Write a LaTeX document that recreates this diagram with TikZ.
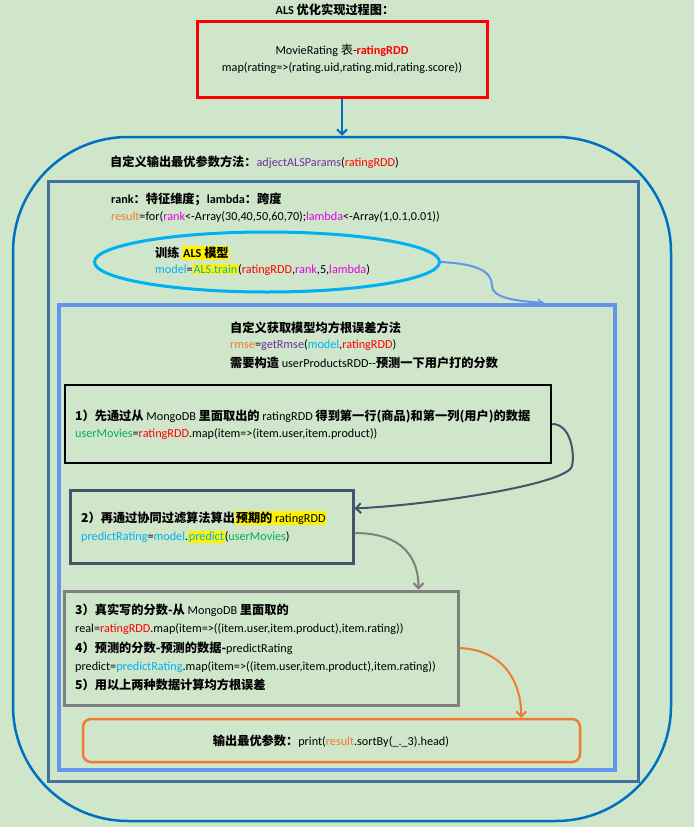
\documentclass[tikz,border=0pt]{standalone}
\usepackage{fontspec}
\setmainfont{Carlito}
\newfontfamily\zhfont{Noto Sans CJK SC}
\usetikzlibrary{arrows.meta,shapes.geometric}

\definecolor{paper}{RGB}{207,230,203}
\definecolor{wordblue}{RGB}{0,112,192}
\definecolor{steel}{RGB}{65,113,156}
\definecolor{cornflower}{RGB}{100,149,237}
\definecolor{skyc}{RGB}{0,176,240}
\definecolor{slate}{RGB}{68,84,106}
\definecolor{codeorange}{RGB}{237,125,49}
\definecolor{codepurple}{RGB}{112,48,160}
\definecolor{codegreen}{RGB}{0,176,80}
\definecolor{codemag}{RGB}{230,0,230}

% bold Chinese run, and yellow marker
\newcommand\zh[1]{{\zhfont\bfseries\fontsize{12.2pt}{14pt}\selectfont #1}}
\newcommand\hly[1]{{\setlength{\fboxsep}{0.8pt}\colorbox{yellow}{#1}}}

\begin{document}
\begin{tikzpicture}[x=1pt,y=-1pt,font=\fontsize{12.2pt}{14pt}\selectfont,
  txt/.style={anchor=west,inner sep=0pt},
  ctxt/.style={inner sep=0pt},
  box/.style={draw,inner sep=0pt},
  barb/.style={-{Straight Barb[length=5pt,width=10pt]}}]
  \useasboundingbox (0,0) rectangle (694,827);
  \fill[paper] (0,0) rectangle (694,827);
  % title and source table
  \node[ctxt] (title) at (335,10) {\textbf{ALS} \zh{优化实现过程图：}};
  \node[box,draw=red,line width=3pt,minimum width=290,minimum height=76] (src) at (342,59) {};
  \node[ctxt] (src1) at (342,50) {MovieRating {\zhfont 表}-\textcolor{red}{\textbf{ratingRDD}}};
  \node[ctxt] (src2) at (342,68) {map(rating=>(rating.uid,rating.mid,rating.score))};
  % outer frame: adjectALSParams
  \node[box,draw=wordblue,line width=2.5pt,rounded corners=115pt,minimum width=658,minimum height=684] (outer) at (342,479) {};
  \node[txt] (outerhd) at (110,162) {\zh{自定义输出最优参数方法：}\textcolor{codepurple}{adjectALSParams}(\textcolor{red}{ratingRDD})};
  % loop frame
  \node[box,draw=steel,line width=3pt,minimum width=590,minimum height=600] (loop) at (343,481) {};
  \node[txt] (rankhd) at (111,199) {\textbf{rank}\zh{：特征维度；}\textbf{lambda}\zh{：跨度}};
  \node[txt] (forln) at (111,217) {\textcolor{codeorange}{result}=for(\textcolor{codemag}{rank}<-Array(30,40,50,60,70);\textcolor{codemag}{lambda}<-Array(1,0.1,0.01))};
  % training ellipse
  \node[ellipse,draw=skyc,line width=3pt,minimum width=345,minimum height=60] (train) at (267,262) {};
  \node[txt] (train1) at (155,253) {\zh{训练 }\hly{\textbf{ALS} \zh{模型}}};
  \node[txt] (train2) at (155,270) {\textcolor{skyc}{model}=\hly{\textcolor{skyc}{ALS.train}}(\textcolor{red}{ratingRDD},\textcolor{codemag}{rank},5,\textcolor{codemag}{lambda})};
  % rmse frame
  \node[box,draw=cornflower,line width=4pt,minimum width=556,minimum height=465] (rmse) at (337,537.5) {};
  \node[txt] (rmse1) at (230,328) {\zh{自定义获取模型均方根误差方法}};
  \node[txt] (rmse2) at (230,345) {\textcolor{codeorange}{rmse}=\textcolor{codepurple}{getRmse}(\textcolor{skyc}{model},\textcolor{red}{ratingRDD})};
  \node[txt] (rmse3) at (230,363) {\zh{需要构造 }userProductsRDD-{}-\zh{预测一下用户打的分数}};
  % step 1
  \node[box,line width=2.5pt,minimum width=486,minimum height=78] (step1) at (308,424) {};
  \node[txt] (step1a) at (75,416) {\zh{1）先通过从 }MongoDB \zh{里面取出的 }ratingRDD \zh{得到第一行(商品)和第一列(用户)的数据}};
  \node[txt] (step1b) at (75,434) {\textcolor{codegreen}{userMovies}=\textcolor{red}{ratingRDD}.map(item=>(item.user,item.product))};
  % step 2
  \node[box,draw=slate,line width=3pt,minimum width=283,minimum height=73] (step2) at (211.5,526.5) {};
  \node[txt] (step2a) at (81,518) {\zh{2）再通过协同过滤算法算出}\hly{\zh{预期的 }ratingRDD}};
  \node[txt] (step2b) at (81,537) {\textcolor{skyc}{predictRating}=\textcolor{skyc}{model}.\hly{\textcolor{skyc}{predict}}(\textcolor{codegreen}{userMovies})};
  % steps 3-5
  \node[box,draw=gray,line width=3pt,minimum width=394,minimum height=114] (step3) at (261,648) {};
  \node[txt] (step3a) at (75,610) {\zh{3）真实写的分数-从 }MongoDB \zh{里面取的}};
  \node[txt] (step3b) at (75,629) {real=\textcolor{red}{ratingRDD}.map(item=>((item.user,item.product),item.rating))};
  \node[txt] (step4a) at (75,648) {\zh{4）预测的分数-预测的数据-}predictRating};
  \node[txt] (step4b) at (75,667) {predict=\textcolor{skyc}{predictRating}.map(item=>((item.user,item.product),item.rating))};
  \node[txt] (step5) at (75,685) {\zh{5）用以上两种数据计算均方根误差}};
  % best params
  \node[box,draw=codeorange,line width=2.5pt,rounded corners=8pt,minimum width=497,minimum height=43] (best) at (331.5,740.5) {};
  \node[ctxt] (bestln) at (331,741) {\zh{输出最优参数：}print(\textcolor{codeorange}{result}.sortBy(\_.\_3).head)};
  % connectors
  \draw[barb,wordblue,line width=2pt] (src.south) -- (outer.north);
  \draw[cornflower,line width=2pt,-{Stealth[length=8pt,width=8pt]}] (train.east) .. controls +(38,2) and +(0,-14) .. (492,286) .. controls +(0,12) and +(-28,-2) .. ([xshift=-72pt]rmse.north east);
  \draw[barb,slate,line width=2pt] (step1.east) .. controls +(18,0) and +(3,-14) .. (572,466) .. controls +(-4,18) and +(80,-4) .. ([yshift=18pt]step2.east);
  \draw[barb,gray,line width=2pt] ([yshift=-6.5pt]step2.east) .. controls +(50,0) and +(0,-30) .. ([xshift=-41pt]step3.north east);
  \draw[barb,codeorange,line width=2pt] (step3.east) .. controls +(45,2) and +(0,-35) .. ([xshift=-60pt]best.north east);
\end{tikzpicture}
\end{document}
